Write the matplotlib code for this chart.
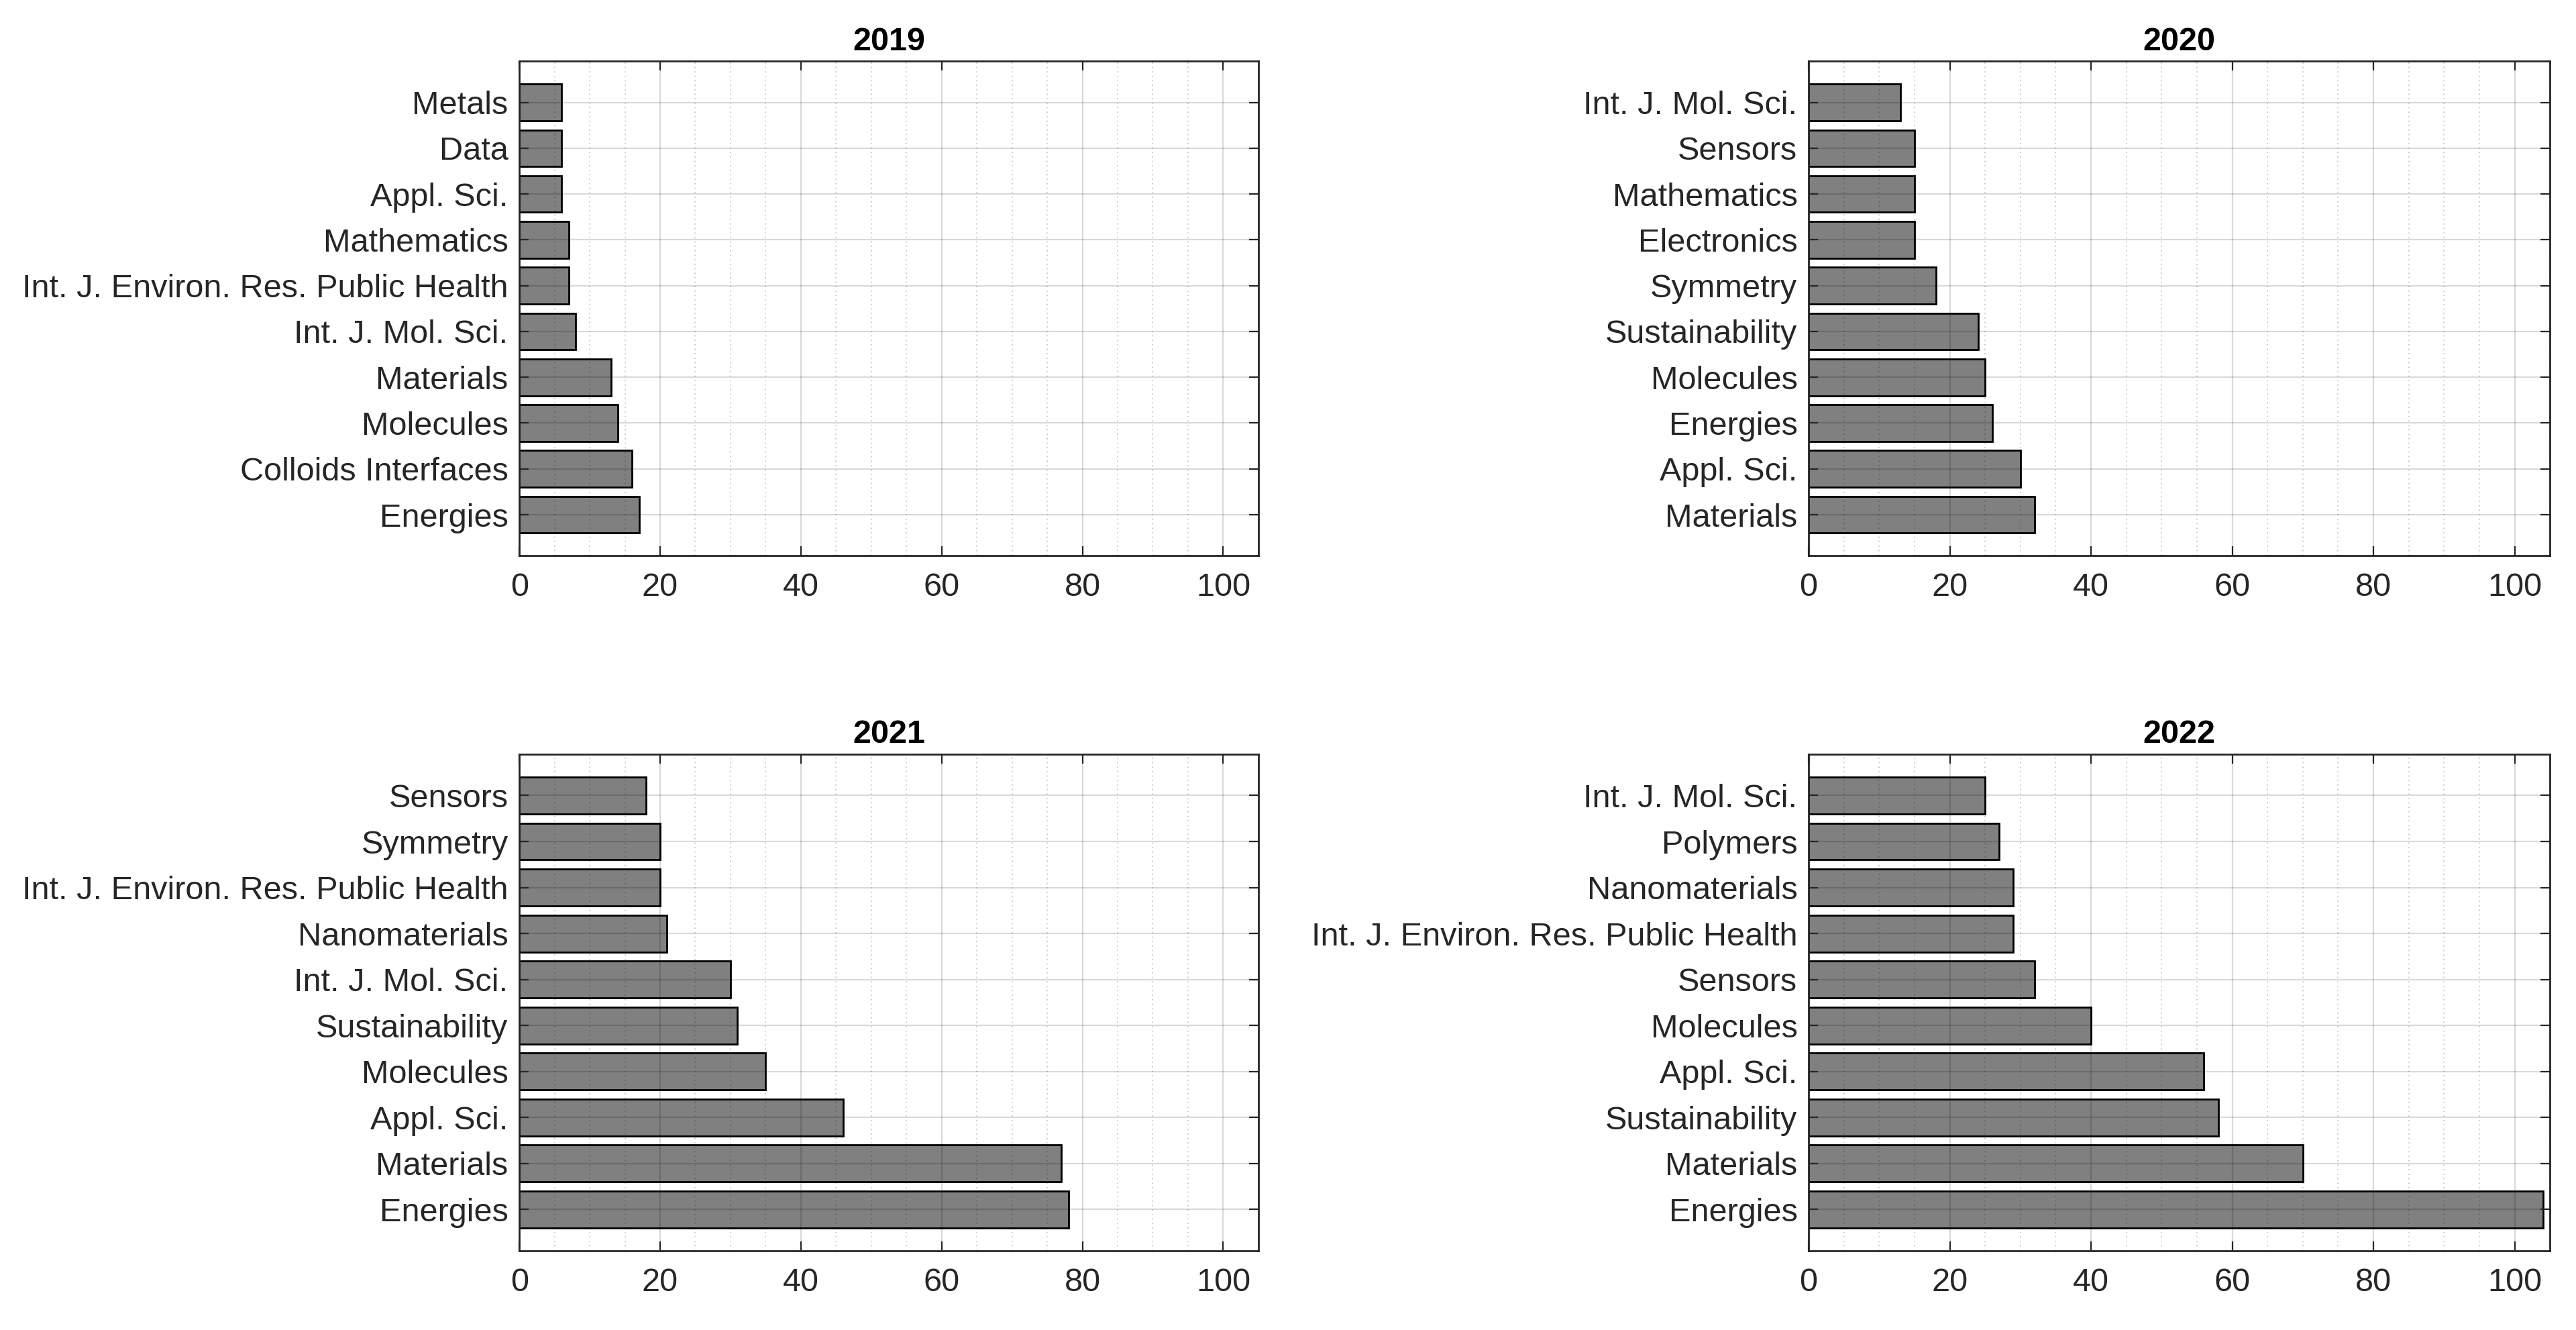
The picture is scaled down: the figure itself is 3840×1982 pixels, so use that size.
import numpy as np
import matplotlib.pyplot as plt
from matplotlib.ticker import MultipleLocator

plt.rcParams['font.family'] = ['Liberation Sans', 'DejaVu Sans']

# Daten: Reihenfolge von oben nach unten
years = ["2019", "2020", "2021", "2022"]

labels_2019 = ["Metals", "Data", "Appl. Sci.", "Mathematics", "Int. J. Environ. Res. Public Health",
               "Int. J. Mol. Sci.", "Materials", "Molecules", "Colloids Interfaces", "Energies"]
values_2019 = [6, 6, 6, 7, 7, 8, 13, 14, 16, 17]

labels_2020 = ["Int. J. Mol. Sci.", "Sensors", "Mathematics", "Electronics", "Symmetry",
               "Sustainability", "Molecules", "Energies", "Appl. Sci.", "Materials"]
values_2020 = [13, 15, 15, 15, 18, 24, 25, 26, 30, 32]

labels_2021 = ["Sensors", "Symmetry", "Int. J. Environ. Res. Public Health", "Nanomaterials",
               "Int. J. Mol. Sci.", "Sustainability", "Molecules", "Appl. Sci.", "Materials", "Energies"]
values_2021 = [18, 20, 20, 21, 30, 31, 35, 46, 77, 78]

labels_2022 = ["Int. J. Mol. Sci.", "Polymers", "Nanomaterials", "Int. J. Environ. Res. Public Health",
               "Sensors", "Molecules", "Appl. Sci.", "Sustainability", "Materials", "Energies"]
values_2022 = [25, 27, 29, 29, 32, 40, 56, 58, 70, 104]

all_labels = [labels_2019, labels_2020, labels_2021, labels_2022]
all_values = [values_2019, values_2020, values_2021, values_2022]

fig = plt.figure(figsize=(19.2, 9.91), dpi=200)

# Positionen der Achsen [links, unten, breite, hoehe]
positions = [
    [0.2016, 0.582, 0.2869, 0.372],
    [0.7021, 0.582, 0.2878, 0.372],
    [0.2016, 0.0595, 0.2869, 0.3735],
    [0.7021, 0.0595, 0.2878, 0.3735],
]

axcol = (0.15, 0.15, 0.15)

for i in range(4):
    ax = fig.add_axes(positions[i])
    labs = all_labels[i][::-1]
    vals = all_values[i][::-1]
    ypos = np.arange(1, len(vals) + 1)
    ax.barh(ypos, vals, height=0.8, color=(0.5, 0.5, 0.5), edgecolor='black', linewidth=1.0, zorder=1)
    ax.set_yticks(ypos)
    ax.set_yticklabels(labs)
    ax.set_xlim(0, 105)
    ax.set_ylim(0.1, 10.9)
    ax.xaxis.set_major_locator(MultipleLocator(20))
    ax.xaxis.set_minor_locator(MultipleLocator(5))
    ax.set_axisbelow(False)
    ax.grid(True, which='major', color='black', alpha=0.15, linewidth=0.8, zorder=3)
    ax.grid(True, which='minor', axis='x', color='black', alpha=0.25, linewidth=0.6,
            linestyle=(0, (1, 3)), zorder=3)
    ax.tick_params(axis='both', which='both', direction='in', top=True, right=True,
                   colors=axcol, labelsize=17.5, length=5, width=0.8)
    ax.tick_params(axis='x', which='minor', length=0)
    ax.tick_params(axis='x', pad=9)
    ax.tick_params(axis='y', pad=6)
    for s in ax.spines.values():
        s.set_color(axcol)
        s.set_linewidth(1.0)
    ax.set_title(years[i], fontsize=17.5, fontweight='bold', pad=6)

plt.savefig('out.png', dpi=200)
